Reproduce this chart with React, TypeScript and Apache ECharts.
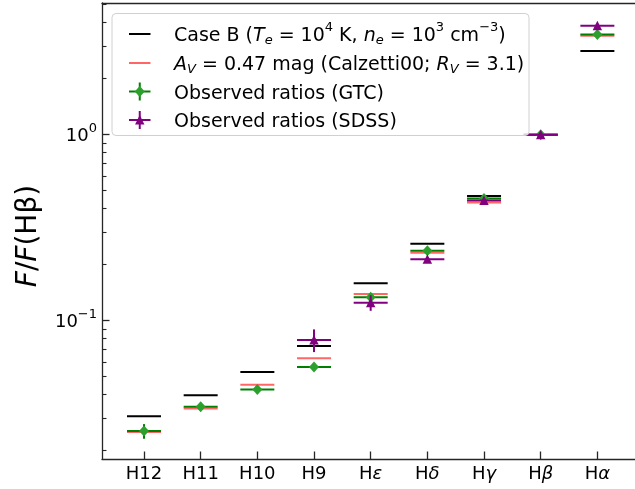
import React, { useEffect, useRef } from 'react';
import * as echarts from 'echarts';

const categories = ['H12', 'H11', 'H10', 'H9', 'Hε', 'Hδ', 'Hγ', 'Hβ', 'Hα'];
const caseB = [0.0306, 0.0397, 0.053, 0.0731, 0.159, 0.259, 0.468, 1.0, 2.82];
const reddened = [0.0252, 0.0337, 0.0453, 0.0628, 0.139, 0.232, 0.432, 1.0, 3.4];
const gtc = [0.0255, 0.0345, 0.0427, 0.0564, 0.1336, 0.238, 0.454, 1.0, 3.46];
const gtcErr = [0.0023, 0.001, 0.001, 0.0015, 0.004, 0.006, 0.008, 0.015, 0.06];
const sdss = [null, null, null, 0.0788, 0.125, 0.214, 0.443, 1.0, 3.85];
const sdssErr = [null, null, null, 0.011, 0.012, 0.006, 0.01, 0.02, 0.08];
const majorTicks = [0.1, 1];
const minorTicks = [0.02, 0.03, 0.04, 0.05, 0.06, 0.07, 0.08, 0.09, 0.2, 0.3, 0.4, 0.5, 0.6, 0.7, 0.8, 0.9, 2, 3, 4, 5];

const FONT = 'DejaVu Sans';
const HALF = 0.3;
const SPINE = '#262626';

function hline(name: string, vals: number[], color: string, width: number) {
  return {
    type: 'custom',
    name,
    data: vals.map((v, i) => [i, v]),
    encode: { x: 0, y: 1 },
    renderItem: (params: any, api: any) => {
      const x = api.value(0) as number;
      const y = api.value(1) as number;
      const a = api.coord([x - HALF, y]);
      const b = api.coord([x + HALF, y]);
      return {
        type: 'line',
        shape: { x1: a[0], y1: a[1], x2: b[0], y2: b[1] },
        style: { stroke: color, lineWidth: width },
      };
    },
  };
}

function errSeries(name: string, vals: (number | null)[], errs: (number | null)[], ecol: string, mcol: string, marker: 'D' | '^') {
  const data: number[][] = [];
  vals.forEach((v, i) => {
    if (v != null) data.push([i, v, (errs[i] as number) || 0]);
  });
  return {
    type: 'custom',
    name,
    data,
    encode: { x: 0, y: 1 },
    renderItem: (params: any, api: any) => {
      const x = api.value(0) as number;
      const y = api.value(1) as number;
      const e = api.value(2) as number;
      const l = api.coord([x - HALF, y]);
      const r = api.coord([x + HALF, y]);
      const t = api.coord([x, y + e]);
      const b = api.coord([x, y - e]);
      const c = api.coord([x, y]);
      const pts =
        marker === 'D'
          ? [[c[0], c[1] - 5.5], [c[0] + 5, c[1]], [c[0], c[1] + 5.5], [c[0] - 5, c[1]]]
          : [[c[0], c[1] - 5], [c[0] + 4.7, c[1] + 4.5], [c[0] - 4.7, c[1] + 4.5]];
      return {
        type: 'group',
        children: [
          { type: 'line', shape: { x1: l[0], y1: l[1], x2: r[0], y2: r[1] }, style: { stroke: ecol, lineWidth: 2 } },
          { type: 'line', shape: { x1: t[0], y1: t[1], x2: b[0], y2: b[1] }, style: { stroke: ecol, lineWidth: 2 } },
          { type: 'polygon', shape: { points: pts }, style: { fill: mcol } },
        ],
      };
    },
  };
}

const LFS = 19;
const legendRich = {
  n: { fontSize: LFS, fontFamily: FONT, color: '#000', lineHeight: 26 },
  i: { fontSize: LFS, fontFamily: FONT, fontStyle: 'italic', color: '#000', lineHeight: 26 },
  sub: { fontSize: 13, fontFamily: FONT, fontStyle: 'italic', color: '#000', lineHeight: 26, padding: [10, 0, 0, 0] },
  sup: { fontSize: 13, fontFamily: FONT, color: '#000', lineHeight: 26, padding: [0, 0, 15, 0] },
};

export default function App() {
  const ref = useRef<HTMLDivElement>(null);
  useEffect(() => {
    const chart = echarts.init(ref.current!, null, { renderer: 'svg' });
    const rowY = [34, 63, 91.5, 120];
    const hx1 = 129;
    const hx2 = 150.5;
    const hc = (hx1 + hx2) / 2;
    const tx = 174;
    const legendTexts = [
      '{n|Case B (}{i|T}{sub|e}{n| = 10}{sup|4}{n| K, }{i|n}{sub|e}{n| = 10}{sup|3}{n| cm}{sup|−3}{n|)}',
      '{i|A}{sub|V}{n| = 0.47 mag (Calzetti00; }{i|R}{sub|V}{n| = 3.1)}',
      '{n|Observed ratios (GTC)}',
      '{n|Observed ratios (SDSS)}',
    ];
    const graphic: any[] = [
      {
        type: 'rect',
        z: 100,
        shape: { x: 112, y: 13.5, width: 417, height: 122, r: 4 },
        style: { fill: 'rgba(255,255,255,0.8)', stroke: '#d0d0d0', lineWidth: 1 },
      },
      { type: 'line', z: 101, shape: { x1: hx1, y1: rowY[0], x2: hx2, y2: rowY[0] }, style: { stroke: '#000', lineWidth: 2 } },
      { type: 'line', z: 101, shape: { x1: hx1, y1: rowY[1], x2: hx2, y2: rowY[1] }, style: { stroke: 'rgba(255,0,0,0.6)', lineWidth: 2 } },
      { type: 'line', z: 101, shape: { x1: hx1, y1: rowY[2], x2: hx2, y2: rowY[2] }, style: { stroke: '#008000', lineWidth: 2 } },
      { type: 'line', z: 101, shape: { x1: hc, y1: rowY[2] - 9, x2: hc, y2: rowY[2] + 9 }, style: { stroke: '#008000', lineWidth: 2 } },
      {
        type: 'polygon', z: 102,
        shape: { points: [[hc, rowY[2] - 5.5], [hc + 5, rowY[2]], [hc, rowY[2] + 5.5], [hc - 5, rowY[2]]] },
        style: { fill: '#2ca02c' },
      },
      { type: 'line', z: 101, shape: { x1: hx1, y1: rowY[3], x2: hx2, y2: rowY[3] }, style: { stroke: '#800080', lineWidth: 2 } },
      { type: 'line', z: 101, shape: { x1: hc, y1: rowY[3] - 9, x2: hc, y2: rowY[3] + 9 }, style: { stroke: '#800080', lineWidth: 2 } },
      {
        type: 'polygon', z: 102,
        shape: { points: [[hc, rowY[3] - 5], [hc + 4.7, rowY[3] + 4.5], [hc - 4.7, rowY[3] + 4.5]] },
        style: { fill: '#800080' },
      },
      ...legendTexts.map((t, k) => ({
        type: 'text', z: 101, x: tx, y: rowY[k],
        style: { text: t, rich: legendRich, textVerticalAlign: 'middle', textAlign: 'left', font: `${LFS}px "${FONT}"` },
      })),
      {
        type: 'text', x: 26, y: 236, rotation: Math.PI / 2,
        style: {
          text: '{i|F}{n|/}{i|F}{n|(Hβ)}',
          textAlign: 'center', textVerticalAlign: 'middle',
          rich: {
            n: { fontSize: 28, fontFamily: FONT, color: '#000' },
            i: { fontSize: 28, fontFamily: FONT, fontStyle: 'italic', color: '#000' },
          },
        },
      },
    ];

    const yBase = {
      type: 'log',
      logBase: 10,
      min: 0.01805,
      max: 5.106,
      position: 'left',
      splitLine: { show: false },
      minorTick: { show: false },
      minorSplitLine: { show: false },
    };

    const option: any = {
      animation: false,
      grid: { left: 102, right: 0, top: 3, bottom: 30, containLabel: false, outerBoundsMode: 'none' },
      xAxis: [
        {
          type: 'value',
          min: -0.741,
          max: 8.664,
          position: 'bottom',
          splitLine: { show: false },
          axisLine: { show: true, onZero: false, lineStyle: { color: SPINE, width: 1.3 } },
          axisTick: { show: true, inside: true, length: 7.5, customValues: categories.map((_, i) => i), lineStyle: { color: SPINE, width: 1.3 } },
          axisLabel: {
            show: true,
            margin: 4,
            customValues: categories.map((_, i) => i),
            formatter: (v: number) => {
              const s = categories[Math.round(v)] || '';
              return /[α-ω]/.test(s.slice(1)) ? `{n|H}{g|${s.slice(1)}}` : `{n|${s}}`;
            },
            rich: {
              n: { fontSize: 18, fontFamily: FONT, color: '#000' },
              g: { fontSize: 18, fontFamily: FONT, fontStyle: 'italic', color: '#000' },
            },
          },
        },
        {
          type: 'value',
          min: -0.741,
          max: 8.664,
          position: 'top',
          splitLine: { show: false },
          axisLine: { show: true, onZero: false, lineStyle: { color: SPINE, width: 1.3 } },
          axisTick: { show: false },
          axisLabel: { show: false },
        },
      ],
      yAxis: [
        {
          ...yBase,
          axisLine: { show: true, onZero: false, lineStyle: { color: SPINE, width: 1.3 } },
          axisTick: { show: true, inside: true, length: 7.5, customValues: majorTicks, lineStyle: { color: SPINE, width: 1.3 } },
          axisLabel: {
            show: true,
            margin: 5,
            customValues: majorTicks,
            formatter: (v: number) => {
              const p = Math.round(Math.log10(v));
              return `{b|10}{s|${p < 0 ? '−' + -p : p}}`;
            },
            rich: {
              b: { fontSize: 18, fontFamily: FONT, color: '#000', lineHeight: 24 },
              s: { fontSize: 13, fontFamily: FONT, color: '#000', lineHeight: 24, padding: [0, 0, 14, 0] },
            },
          },
        },
        {
          ...yBase,
          axisLine: { show: false, onZero: false },
          axisTick: { show: true, inside: true, length: 4.5, customValues: minorTicks, lineStyle: { color: SPINE, width: 1.1 } },
          axisLabel: { show: false },
        },
      ],
      series: [
        hline('Case B', caseB, '#000', 2),
        hline('A_V', reddened, 'rgba(255,0,0,0.6)', 2),
        errSeries('GTC', gtc, gtcErr, '#008000', '#2ca02c', 'D'),
        errSeries('SDSS', sdss, sdssErr, '#800080', '#800080', '^'),
      ],
      graphic,
    };
    chart.setOption(option);
    return () => chart.dispose();
  }, []);
  return <div ref={ref} style={{ position: 'fixed', left: 0, top: 0, width: 635, height: 489 }} />;
}
